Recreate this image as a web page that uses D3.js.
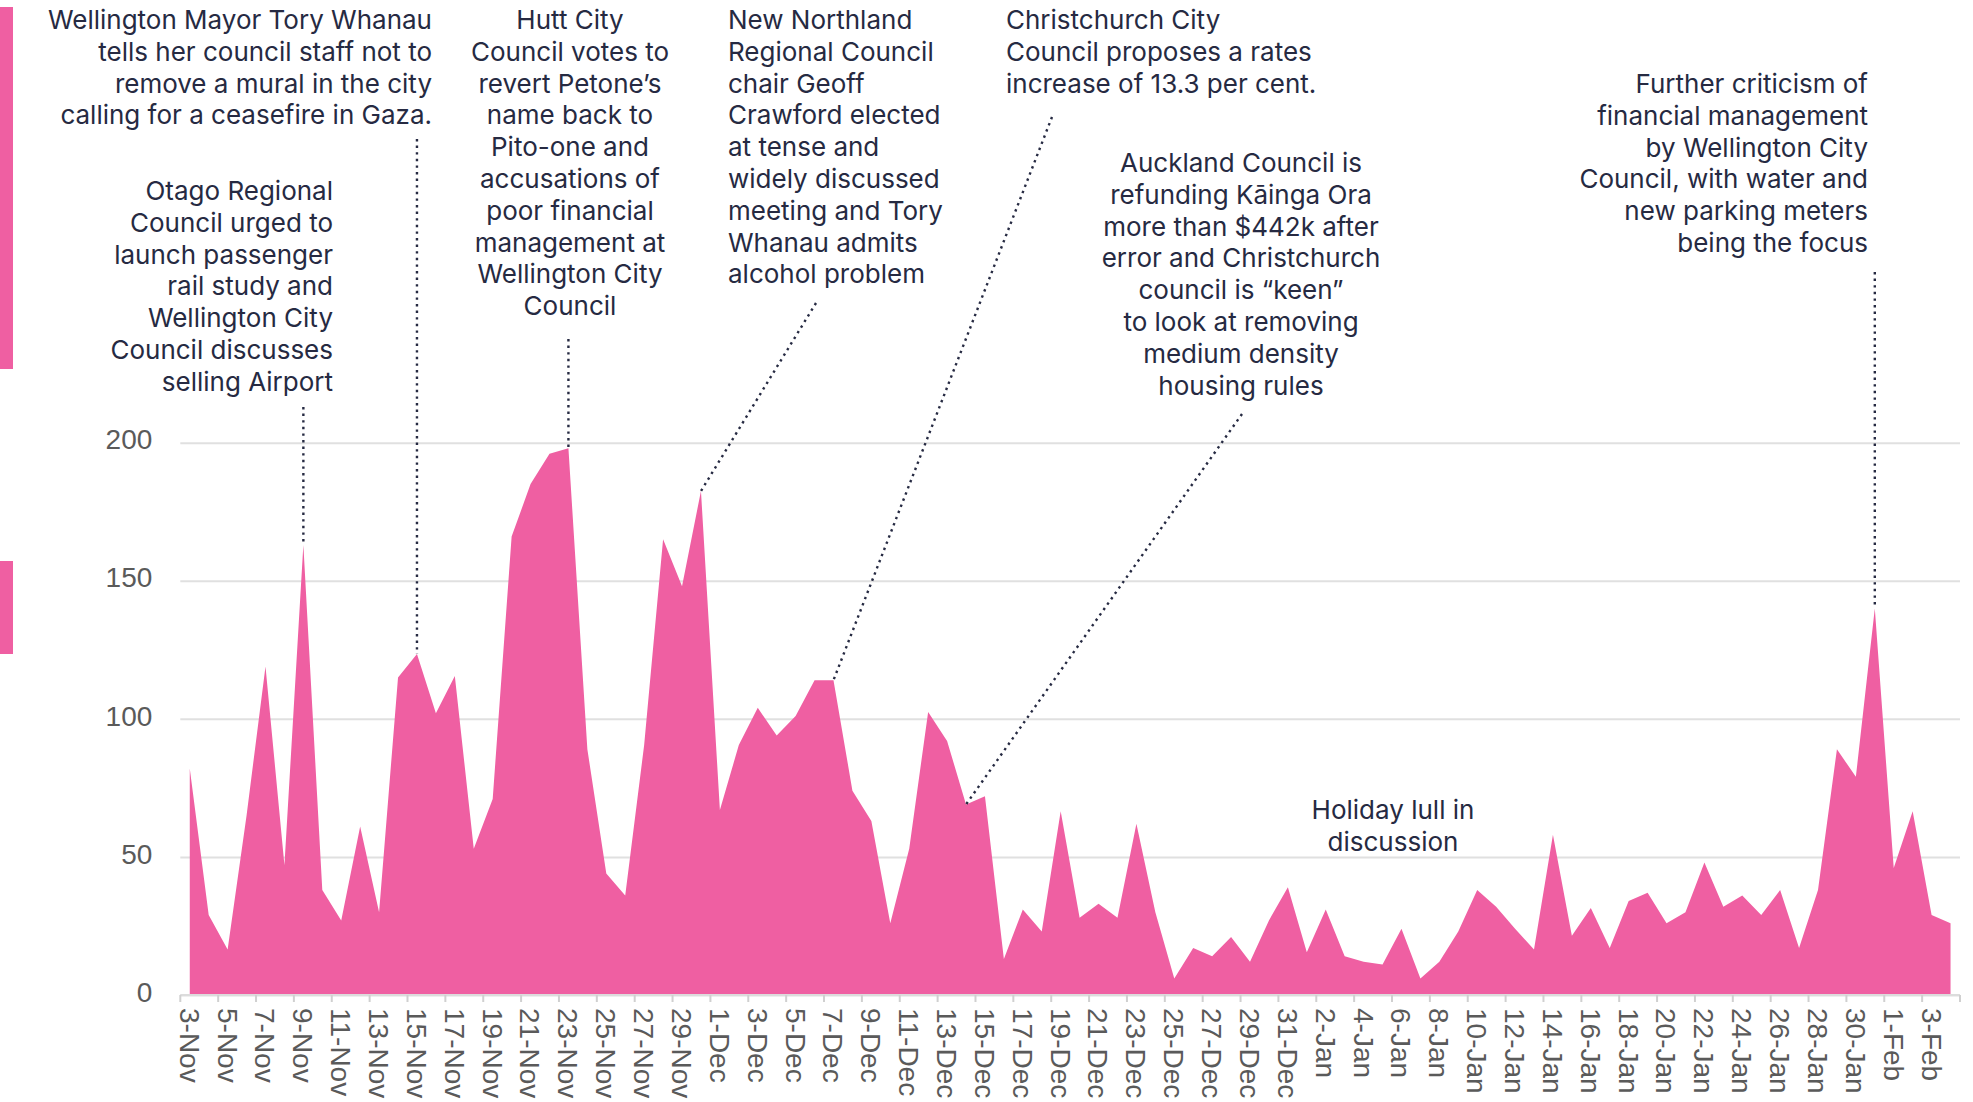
<!DOCTYPE html>
<html>
<head>
<meta charset="utf-8">
<script src="https://cdn.jsdelivr.net/npm/d3@7"></script>
<style>
  body { margin: 0; background: #fff; }
  svg { display: block; }
</style>
</head>
<body>
<div id="chart"></div>
<script>
// daily categories, 3 Nov to 4 Feb
const dates = [
  "3-Nov","4-Nov","5-Nov","6-Nov","7-Nov","8-Nov","9-Nov","10-Nov","11-Nov","12-Nov","13-Nov","14-Nov","15-Nov","16-Nov",
  "17-Nov","18-Nov","19-Nov","20-Nov","21-Nov","22-Nov","23-Nov","24-Nov","25-Nov","26-Nov","27-Nov","28-Nov","29-Nov","30-Nov",
  "1-Dec","2-Dec","3-Dec","4-Dec","5-Dec","6-Dec","7-Dec","8-Dec","9-Dec","10-Dec","11-Dec","12-Dec","13-Dec","14-Dec","15-Dec",
  "16-Dec","17-Dec","18-Dec","19-Dec","20-Dec","21-Dec","22-Dec","23-Dec","24-Dec","25-Dec","26-Dec","27-Dec","28-Dec","29-Dec",
  "30-Dec","31-Dec",
  "1-Jan","2-Jan","3-Jan","4-Jan","5-Jan","6-Jan","7-Jan","8-Jan","9-Jan","10-Jan","11-Jan","12-Jan","13-Jan","14-Jan","15-Jan",
  "16-Jan","17-Jan","18-Jan","19-Jan","20-Jan","21-Jan","22-Jan","23-Jan","24-Jan","25-Jan","26-Jan","27-Jan","28-Jan","29-Jan",
  "30-Jan","31-Jan",
  "1-Feb","2-Feb","3-Feb","4-Feb"
];

// mentions per day
const mentions = [
  82, 29, 16.5, 65, 119, 47, 163, 38, 27, 61, 30, 115, 123.5, 102,
  115.5, 53, 71, 166, 185, 196, 198, 89, 44, 36, 90.5, 165, 148, 182.5,
  67, 90.5, 104, 94, 101, 114, 114, 74, 63, 26, 53, 102.5, 92, 69, 72,
  13, 31, 23, 66.5, 28, 33, 28, 62, 30, 6, 17, 14, 21, 12,
  27, 39,
  15.5, 31, 14, 12, 11, 24, 6, 12, 23, 38, 32, 24, 16.5, 58, 21.5,
  31.5, 17, 34, 37, 26, 30, 48, 32, 36, 29, 38, 17, 38, 89,
  79, 140,
  46, 66.5, 29, 26
];

const yTicks = [0, 50, 100, 150, 200];

// annotation texts and the day each one points at
const noteTexts = [
  ["Wellington Mayor Tory Whanau", "tells her council staff not to", "remove a mural in the city", "calling for a ceasefire in Gaza."],
  ["Otago Regional", "Council urged to", "launch passenger", "rail study and", "Wellington City", "Council discusses", "selling Airport"],
  ["Hutt City", "Council votes to", "revert Petone\u2019s", "name back to", "Pito-one and", "accusations of", "poor financial", "management at", "Wellington City", "Council"],
  ["New Northland", "Regional Council", "chair Geoff", "Crawford elected", "at tense and", "widely discussed", "meeting and Tory", "Whanau admits", "alcohol problem"],
  ["Christchurch City", "Council proposes a rates", "increase of 13.3 per cent."],
  ["Auckland Council is", "refunding K\u0101inga Ora", "more than $442k after", "error and Christchurch", "council is \u201ckeen\u201d", "to look at removing", "medium density", "housing rules"],
  ["Holiday lull in", "discussion"],
  ["Further criticism of", "financial management", "by Wellington City", "Council, with water and", "new parking meters", "being the focus"]
];
const noteDates = ["15-Nov", "9-Nov", "23-Nov", "30-Nov", "7-Dec", "14-Dec", null, "31-Jan"];

// layout of the annotations (text anchor point and leader start)
const noteLayout = [
  { x: 432, y: 29, anchor: "end", from: [null, 139] },
  { x: 333, y: 200, anchor: "end", from: [null, 407] },
  { x: 570, y: 29, anchor: "middle", from: [null, 339] },
  { x: 728, y: 29, anchor: "start", from: [816, 303] },
  { x: 1006, y: 29, anchor: "start", from: [1052, 117] },
  { x: 1241, y: 172, anchor: "middle", from: [1242, 414] },
  { x: 1393, y: 819, anchor: "middle", from: null },
  { x: 1868, y: 93, anchor: "end", from: [null, 272] }
];

const width = 1973, height = 1102;
const pink = "#ef5fa2";
const ink = "#262a42";
const grey = "#5a5a5a";
const lineH = 31.8;

const svg = d3.select("#chart").append("svg")
    .attr("width", width)
    .attr("height", height);

const x = d3.scaleBand().domain(dates).range([180.3, 1960]);
const y = d3.scaleLinear().domain([0, 200]).range([995, 442.7]);
const cx = d => x(d) + x.bandwidth() / 2;

// stray legend swatches cut off at the left edge
svg.append("rect").attr("x", 0).attr("y", 7).attr("width", 13).attr("height", 362).attr("fill", pink);
svg.append("rect").attr("x", 0).attr("y", 561).attr("width", 13).attr("height", 93).attr("fill", pink);

// gridlines + y labels
const yAxis = svg.append("g")
    .attr("transform", "translate(180.3,0)")
    .call(d3.axisLeft(y).tickValues(yTicks).tickSize(-(1960 - 180.3)).tickPadding(28));
yAxis.select(".domain").remove();
yAxis.selectAll(".tick line").attr("stroke", "#e0e0e0").attr("stroke-width", 2);
yAxis.selectAll(".tick text")
    .attr("fill", grey)
    .attr("dy", "0.22em")
    .style("font-family", "'Liberation Sans', Arial, sans-serif")
    .style("font-size", "28px");

// area
const series = dates.map((d, i) => ({ date: d, value: mentions[i] }));
const area = d3.area()
    .x(d => cx(d.date))
    .y0(y(0))
    .y1(d => y(d.value));

svg.append("path")
    .datum(series)
    .attr("fill", pink)
    .attr("d", area);

// x axis: line, ticks at band edges every 2 days, labels at centres
svg.append("line")
    .attr("x1", 180.3).attr("x2", 1960)
    .attr("y1", y(0)).attr("y2", y(0))
    .attr("stroke", "#dcdcdc").attr("stroke-width", 2);

const edges = dates.filter((d, i) => i % 2 === 0).map(d => x(d)).concat([1960]);
svg.append("g").selectAll("line")
    .data(edges)
    .join("line")
    .attr("x1", d => d).attr("x2", d => d)
    .attr("y1", y(0)).attr("y2", y(0) + 7)
    .attr("stroke", "#d0d0d0").attr("stroke-width", 2);

const xAxis = svg.append("g")
    .attr("transform", "translate(0," + y(0) + ")")
    .call(d3.axisBottom(x).tickValues(dates.filter((d, i) => i % 2 === 0)).tickSize(0).tickPadding(0));
xAxis.select(".domain").remove();
xAxis.selectAll(".tick text")
    .attr("fill", grey)
    .attr("text-anchor", "start")
    .attr("x", 0).attr("y", 0)
    .attr("dy", "0.36em")
    .attr("transform", "translate(0,13) rotate(90)")
    .style("font-family", "'Liberation Sans', Arial, sans-serif")
    .style("font-size", "28px");

// annotations
const notesG = svg.append("g");
noteTexts.forEach(function(lines, i) {
    const lay = noteLayout[i];
    const target = noteDates[i];
    if (lay.from && target) {
        const tx = cx(target);
        const ty = y(mentions[dates.indexOf(target)]);
        const fx = lay.from[0] === null ? tx : lay.from[0];
        notesG.append("line")
            .attr("x1", fx).attr("y1", lay.from[1])
            .attr("x2", tx).attr("y2", ty)
            .attr("stroke", ink)
            .attr("stroke-width", 2.4)
            .attr("stroke-dasharray", "2.4 4.2");
    }
    const t = notesG.append("text")
        .attr("x", lay.x)
        .attr("y", lay.y)
        .attr("text-anchor", lay.anchor)
        .attr("fill", ink)
        .style("font-family", "Inter, 'Noto Sans', sans-serif")
        .style("font-size", "26px");
    t.selectAll("tspan")
        .data(lines)
        .join("tspan")
        .attr("x", lay.x)
        .attr("y", (d, j) => lay.y + j * lineH)
        .text(d => d);
});
</script>
</body>
</html>
